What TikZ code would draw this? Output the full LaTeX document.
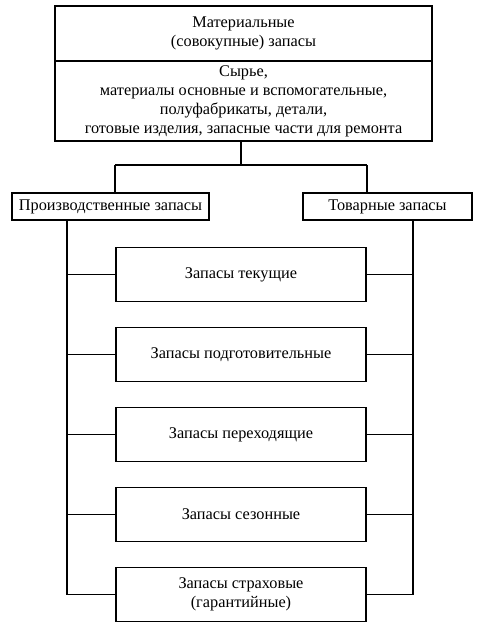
\documentclass[tikz,border=0pt]{standalone}
\usepackage{fontspec}
\setmainfont{Liberation Serif}
\usepackage{tikz}
\usetikzlibrary{calc}

\begin{document}
\begin{tikzpicture}[
    x=1pt, y=-1pt,
    box/.style={draw, line width=1.6pt, align=center, inner sep=0pt,
                font=\fontsize{16.3}{19}\selectfont},
    stock box/.style={box, minimum width=250pt, minimum height=54pt},
    branch line/.style={line width=1.6pt},
    every node/.style={color=black}
    ]
    \useasboundingbox (0,0) rectangle (480,633);

    % top boxes
    \node[box, minimum width=377pt, minimum height=55pt] (mat) at (243.5,33.5)
        {Материальные\\(совокупные) запасы};
    \node[box, minimum width=377pt, minimum height=80pt] (raw) at (243.5,101)
        {Сырье,\\материалы основные и вспомогательные,\\полуфабрикаты, детали,\\готовые изделия, запасные части для ремонта};
    % groups
    \node[box, minimum width=197pt, minimum height=27pt] (prod) at (110.5,206.5)
        {Производственные запасы};
    \node[box, minimum width=169pt, minimum height=27pt] (tov) at (387.5,206.5)
        {Товарные запасы};
    % kinds of stock
    \node[stock box] (cur)   at (241,274.5) {Запасы текущие};
    \node[stock box] (prep)  at (241,354.5) {Запасы подготовительные};
    \node[stock box] (trans) at (241,434.5) {Запасы переходящие};
    \node[stock box] (seas)  at (241,514.5) {Запасы сезонные};
    \node[stock box] (safe)  at (241,594.5) {Запасы страховые\\(гарантийные)};

    % fork
    \coordinate (fork) at (241,165);
    \draw[branch line] (raw.south -| fork) -- (fork);
    \draw[branch line] (fork -| cur.west) -- (fork -| cur.east);
    \draw[branch line] (fork -| cur.west) -- (prod.north -| cur.west);
    \draw[branch line] (fork -| cur.east) -- (tov.north -| cur.east);
    % spines
    \coordinate (lspine) at (67,220);
    \coordinate (rspine) at (413,220);
    \draw[branch line] (lspine) -- (lspine |- safe.west);
    \draw[branch line] (rspine) -- (rspine |- safe.east);
    \foreach \n in {cur,prep,trans,seas,safe}{
        \draw[branch line] (lspine |- \n.west) -- (\n.west);
        \draw[branch line] (rspine |- \n.east) -- (\n.east);
    }
\end{tikzpicture}
\end{document}
